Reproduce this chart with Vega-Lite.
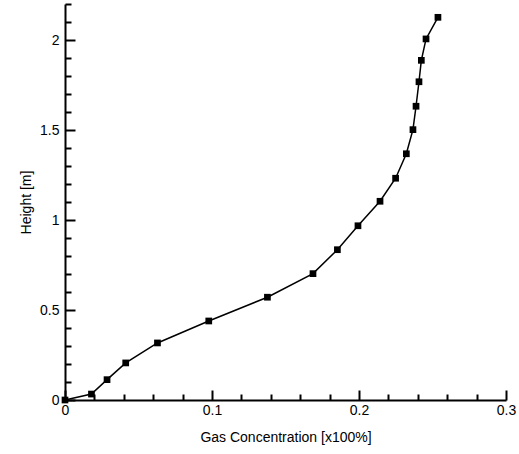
{
  "$schema": "https://vega.github.io/schema/vega-lite/v6.json",
  "width": 441,
  "height": 396,
  "autosize": "none",
  "padding": {"left": 65, "top": 4, "right": 13, "bottom": 54},
  "background": "white",
  "config": {
    "view": {"stroke": null},
    "font": "Liberation Sans",
    "axis": {
      "grid": false,
      "domainColor": "black",
      "domainWidth": 2,
      "tickColor": "black",
      "tickWidth": 2,
      "labelColor": "black",
      "titleColor": "black",
      "labelFont": "Liberation Sans",
      "titleFont": "Liberation Sans",
      "labelFontSize": 14,
      "titleFontSize": 14,
      "titleFontWeight": "normal",
      "labelOverlap": false,
      "labelFlush": false,
      "labelBound": false
    }
  },
  "data": {
    "values": [
      {"c": 0.0, "h": 0.0},
      {"c": 0.018, "h": 0.033},
      {"c": 0.0286, "h": 0.113},
      {"c": 0.0413, "h": 0.206},
      {"c": 0.0629, "h": 0.317},
      {"c": 0.0978, "h": 0.439},
      {"c": 0.1377, "h": 0.571},
      {"c": 0.1687, "h": 0.702},
      {"c": 0.1853, "h": 0.835},
      {"c": 0.1993, "h": 0.968},
      {"c": 0.2143, "h": 1.104},
      {"c": 0.2249, "h": 1.232},
      {"c": 0.2322, "h": 1.368},
      {"c": 0.2367, "h": 1.502},
      {"c": 0.2388, "h": 1.632},
      {"c": 0.2408, "h": 1.768},
      {"c": 0.2424, "h": 1.887},
      {"c": 0.2456, "h": 2.006},
      {"c": 0.2537, "h": 2.126}
    ]
  },
  "resolve": {"axis": {"x": "independent", "y": "independent"}},
  "layer": [
    {
      "mark": {"type": "line", "color": "black", "strokeWidth": 0, "opacity": 0},
      "encoding": {
        "x": {
          "field": "c",
          "type": "quantitative",
          "scale": {"domain": [0, 0.3], "nice": false, "zero": true},
          "axis": {
            "orient": "bottom",
            "title": null,
            "labels": false,
            "domain": false,
            "ticks": true,
            "offset": -6,
            "values": [0.02, 0.04, 0.06, 0.08, 0.12, 0.14, 0.16, 0.18, 0.22, 0.24, 0.26, 0.28],
            "tickSize": 6
          }
        },
        "y": {
          "field": "h",
          "type": "quantitative",
          "scale": {"domain": [0, 2.2], "nice": false, "zero": true},
          "axis": {
            "orient": "left",
            "title": null,
            "labels": false,
            "domain": false,
            "ticks": true,
            "offset": -6,
            "values": [0.1, 0.2, 0.3, 0.4, 0.6, 0.7, 0.8, 0.9, 1.1, 1.2, 1.3, 1.4, 1.6, 1.7, 1.8, 1.9, 2.1, 2.2],
            "tickSize": 6
          }
        }
      }
    },
    {
      "mark": {"type": "line", "color": "black", "strokeWidth": 0, "opacity": 0},
      "encoding": {
        "x": {
          "field": "c",
          "type": "quantitative",
          "axis": {
            "orient": "bottom",
            "title": null,
            "labels": false,
            "domain": false,
            "ticks": true,
            "offset": -10,
            "values": [0, 0.1, 0.2, 0.3],
            "tickSize": 10
          }
        },
        "y": {
          "field": "h",
          "type": "quantitative",
          "axis": {
            "orient": "left",
            "title": null,
            "labels": false,
            "domain": false,
            "ticks": true,
            "offset": -10,
            "values": [0, 0.5, 1, 1.5, 2],
            "tickSize": 10
          }
        }
      }
    },
    {
      "mark": {
        "type": "line",
        "color": "black",
        "strokeWidth": 1.5,
        "clip": false,
        "point": {"shape": "square", "size": 45, "filled": true, "color": "black", "opacity": 1}
      },
      "encoding": {
        "x": {
          "field": "c",
          "type": "quantitative",
          "axis": {
            "orient": "bottom",
            "title": "Gas Concentration [x100%]",
            "values": [0, 0.1, 0.2, 0.3],
            "format": "~g",
            "ticks": false,
            "labelPadding": 3,
            "titlePadding": 13
          }
        },
        "y": {
          "field": "h",
          "type": "quantitative",
          "axis": {
            "orient": "left",
            "title": "Height [m]",
            "values": [0, 0.5, 1, 1.5, 2],
            "format": "~g",
            "ticks": false,
            "labelPadding": 6,
            "titlePadding": 6
          }
        }
      }
    }
  ]
}
